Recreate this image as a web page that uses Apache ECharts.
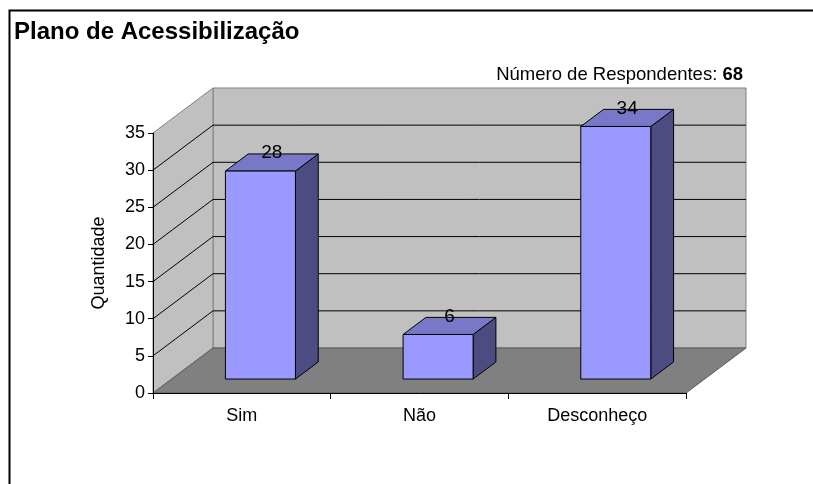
<!doctype html>
<html>
<head>
	<meta charset="utf-8">
	<title>Plano de Acessibilização</title>
	<script src="https://cdn.jsdelivr.net/npm/echarts@6/dist/echarts.min.js"></script>
	<style>
		html, body { margin: 0; padding: 0; background: #fff; }
		#main { width: 813px; height: 484px; }
	</style>
</head>
<body>
<div id="main"></div>
<script>
	// dados
	var categories = ['Sim', 'Não', 'Desconheço']
	var values = [28, 6, 34]
	var yMin = 0
	var yMax = 35
	var yStep = 5
	var respondentes = 68

	var font = 'Liberation Sans, Arial, sans-serif'
	// profundidade do efeito 3D (px)
	var dX = 60, dY = -45
	var barFront = 0.31, barDepth = 0.38, barWidth = 0.394

	var myChart = echarts.init(document.getElementById('main'))

	function renderWalls(params, api) {
		var cs = params.coordSys
		var x0 = cs.x, x1 = cs.x + cs.width
		var yb = api.coord([0, yMin])[1]
		var yt = api.coord([0, yMax])[1]
		var kids = []
		// parede de fundo
		kids.push({ type: 'rect', shape: { x: x0 + dX, y: yt + dY, width: x1 - x0, height: yb - yt },
			style: { fill: '#c0c0c0', stroke: '#808080', lineWidth: 1 } })
		// parede lateral
		kids.push({ type: 'polygon', shape: { points: [[x0, yt], [x0, yb], [x0 + dX, yb + dY], [x0 + dX, yt + dY]] },
			style: { fill: '#c0c0c0', stroke: '#808080', lineWidth: 1 } })
		// linhas de grade
		for (var v = yMin + yStep; v < yMax; v += yStep) {
			var y = api.coord([0, v])[1]
			kids.push({ type: 'polyline', shape: { points: [[x0, y], [x0 + dX, y + dY], [x1 + dX, y + dY]] },
				style: { fill: null, stroke: '#000', lineWidth: 1 } })
		}
		// piso
		kids.push({ type: 'polygon', shape: { points: [[x0, yb], [x1, yb], [x1 + dX, yb + dY], [x0 + dX, yb + dY]] },
			style: { fill: '#808080', stroke: '#5a5a5a', lineWidth: 1 } })
		return { type: 'group', children: kids }
	}

	function renderBar(params, api) {
		var base = api.coord([api.value(0), yMin])
		var top = api.coord([api.value(0), api.value(1)])
		var band = api.size([1, 0])[0]
		var w = band * barWidth
		var fx = barFront * dX, fy = barFront * dY
		var bx = barDepth * dX, by = barDepth * dY
		var xl = base[0] + fx - w / 2, xr = xl + w
		var yt = top[1] + fy, yb = base[1] + fy
		var ln = { stroke: '#000', lineWidth: 1, lineJoin: 'round' }
		return {
			type: 'group',
			children: [
				{ type: 'polygon', shape: { points: [[xr, yt], [xr, yb], [xr + bx, yb + by], [xr + bx, yt + by]] },
					style: Object.assign({ fill: '#4c4c80' }, ln) },
				{ type: 'polygon', shape: { points: [[xl, yt], [xr, yt], [xr + bx, yt + by], [xl + bx, yt + by]] },
					style: Object.assign({ fill: '#7878c8' }, ln) },
				{ type: 'rect', shape: { x: xl, y: yt, width: w, height: yb - yt },
					style: Object.assign({ fill: '#9999ff' }, ln) },
				{ type: 'text', style: { text: String(api.value(1)), x: xl + w / 2 + bx / 2, y: yt + by - 1,
					align: 'center', verticalAlign: 'middle', fill: '#000', fontSize: 19, fontFamily: font } }
			]
		}
	}

	var option = {
		backgroundColor: '#fff',
		animation: false,
		title: [{
			text: 'Plano de Acessibilização',
			left: 14, top: 20, padding: 0,
			textStyle: { fontSize: 24, fontWeight: 'bold', color: '#000', fontFamily: font }
		}, {
			text: '{a|Número de Respondentes: }{b|' + respondentes + '}',
			right: 70, top: 65, padding: 0,
			textStyle: {
				fontWeight: 'normal',
				rich: {
					a: { fontSize: 18.5, fontWeight: 'normal', color: '#000', fontFamily: font },
					b: { fontSize: 18.5, fontWeight: 'bold', color: '#000', fontFamily: font }
				}
			}
		}],
		graphic: [{
			type: 'rect', left: 7, top: 8, z: -1,
			shape: { width: 900, height: 600 },
			style: { fill: null, stroke: '#000', lineWidth: 2 }
		}],
		grid: { left: 153, right: 127, top: 133, bottom: 91 },
		xAxis: {
			type: 'category',
			data: categories,
			z: 5,
			axisLine: { lineStyle: { color: '#000', width: 1 } },
			axisTick: { show: true, length: 6, lineStyle: { color: '#000' } },
			axisLabel: { color: '#000', fontSize: 18, fontFamily: font, margin: 14 },
			splitLine: { show: false }
		},
		yAxis: {
			type: 'value',
			min: yMin, max: yMax, interval: yStep,
			z: 5,
			name: 'Quantidade',
			nameLocation: 'middle',
			nameRotate: 90,
			nameGap: 45,
			nameTextStyle: { color: '#000', fontSize: 18, fontFamily: font },
			axisLine: { show: true, lineStyle: { color: '#000', width: 1 } },
			axisTick: { show: true, length: 5, lineStyle: { color: '#000' } },
			axisLabel: { color: '#000', fontSize: 18, fontFamily: font, margin: 8 },
			splitLine: { show: false }
		},
		series: [{
			type: 'custom',
			name: 'paredes',
			z: 1,
			silent: true,
			renderItem: renderWalls,
			data: [[0, 0]]
		}, {
			type: 'custom',
			name: 'Quantidade',
			z: 3,
			renderItem: renderBar,
			encode: { x: 0, y: 1 },
			data: values.map(function (v, i) { return [i, v] })
		}]
	}
	myChart.setOption(option)
</script>
</body>
</html>
